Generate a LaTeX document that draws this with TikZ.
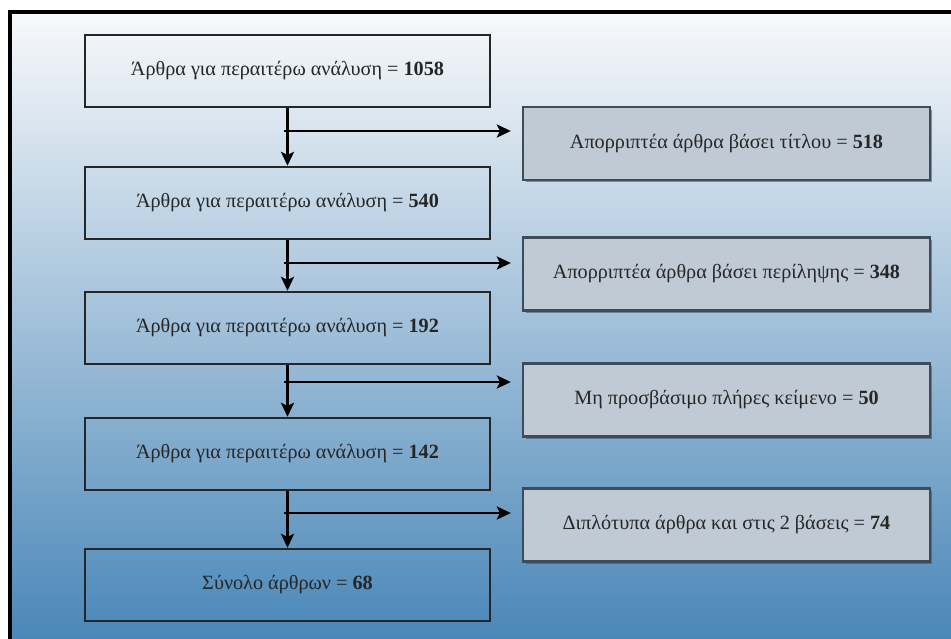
\documentclass[tikz,border=0pt]{standalone}
\usepackage{fontspec}
\setmainfont{Liberation Serif}
\usetikzlibrary{arrows.meta,shadows}
\definecolor{bgtop}{HTML}{F8F9FB}
\definecolor{bgmid}{HTML}{B4CADC}
\definecolor{bgbot}{HTML}{4A87B8}
\definecolor{rejfill}{HTML}{C0CAD5}
\definecolor{rejline}{HTML}{3E4C5A}
\definecolor{txt}{HTML}{262626}
\tikzset{
  stagebox/.style={draw=black!85, line width=1.4pt, minimum width=8.1cm, minimum height=1.44cm,
    text=txt, font=\fontsize{11.5}{14}\selectfont},
  rejectbox/.style={stagebox, draw=rejline, fill=rejfill, minimum width=8.14cm, minimum height=1.46cm,
    drop shadow={shadow xshift=0.05cm, shadow yshift=-0.05cm, fill=rejline, opacity=0.55}},
  flow/.style={line width=1.2pt, -{Stealth[length=8pt,width=7.5pt,inset=1.8pt]}}
}
\begin{document}
\begin{tikzpicture}[x=0.02cm,y=-0.02cm]
\useasboundingbox (0,0) rectangle (951,639);
\shade[top color=bgtop, middle color=bgmid, bottom color=bgbot] (10,12) rectangle (951,639);
\draw[line width=2pt] (10,639) -- (10,12) -- (951,12);
% stages on the left
\foreach \n/\y/\v in {1/71/1058, 2/203/540, 3/328/192, 4/454/142} {
  \node[stagebox] (a\n) at (287.5,\y) {Άρθρα για περαιτέρω ανάλυση = \textbf{\v}};
}
\node[stagebox] (a5) at (287.5,585) {Σύνολο άρθρων = \textbf{68}};
% excluded on the right
\foreach \n/\y/\t in {1/143.5/{Απορριπτέα άρθρα βάσει τίτλου = \textbf{518}},
                      2/274/{Απορριπτέα άρθρα βάσει περίληψης = \textbf{348}},
                      3/400/{Μη προσβάσιμο πλήρες κείμενο = \textbf{50}},
                      4/525/{Διπλότυπα άρθρα και στις 2 βάσεις = \textbf{74}}} {
  \node[rejectbox] (r\n) at (726.5,\y) {\t};
}
\foreach \i/\j/\y in {1/2/131, 2/3/263, 3/4/382, 4/5/513} {
  \draw[flow] (a\i.south) -- (a\j.north);
  \coordinate (s\i) at (284,\y);
  \draw[flow, shorten >=0.22cm] (s\i) -- (s\i -| r\i.west);
}
\end{tikzpicture}
\end{document}
